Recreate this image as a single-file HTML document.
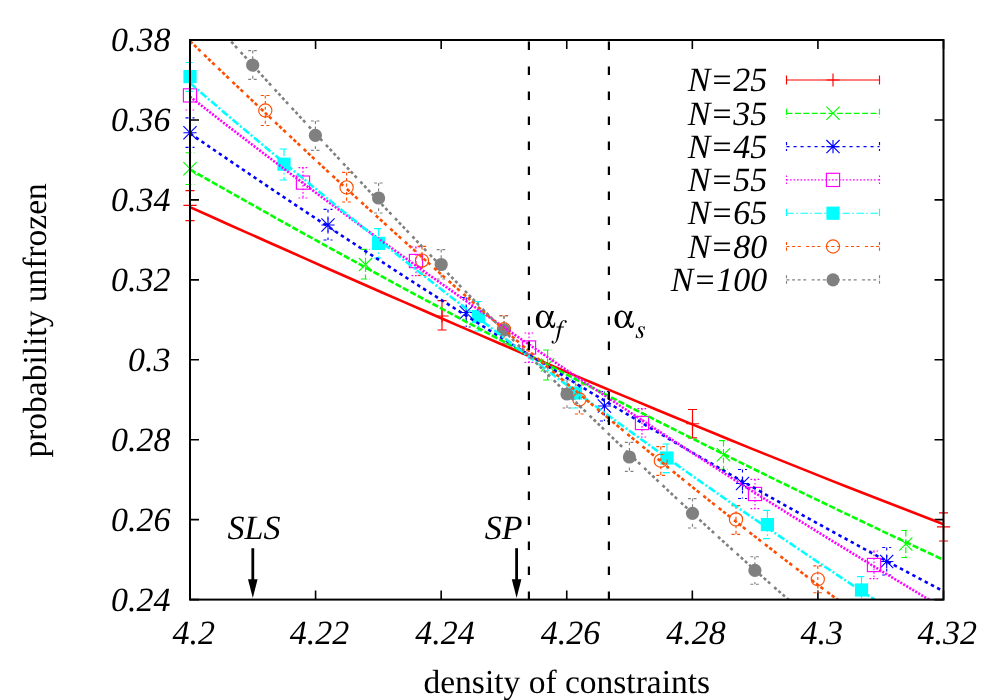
<!DOCTYPE html>
<html><head><meta charset="utf-8"><title>plot</title>
<style>
html,body{margin:0;padding:0;background:#fff;}
svg{display:block;will-change:transform;}
text{font-family:"Liberation Serif",serif;fill:#000;text-rendering:geometricPrecision;}
.it{font-style:italic;}
</style></head><body>
<svg width="1000" height="700" viewBox="0 0 1000 700">
<rect width="1000" height="700" fill="#fff"/>
<defs><clipPath id="cp"><rect x="190.0" y="40.0" width="753.5" height="559.6"/></clipPath></defs>
<path d="M190.00 599.6V590.6M190.00 40.0V49.0M315.58 599.6V590.6M315.58 40.0V49.0M441.17 599.6V590.6M441.17 40.0V49.0M566.75 599.6V590.6M566.75 40.0V49.0M692.33 599.6V590.6M692.33 40.0V49.0M817.92 599.6V590.6M817.92 40.0V49.0M943.50 599.6V590.6M943.50 40.0V49.0M190.0 40.00H199.0M943.5 40.00H934.5M190.0 119.94H199.0M943.5 119.94H934.5M190.0 199.89H199.0M943.5 199.89H934.5M190.0 279.83H199.0M943.5 279.83H934.5M190.0 359.77H199.0M943.5 359.77H934.5M190.0 439.71H199.0M943.5 439.71H934.5M190.0 519.66H199.0M943.5 519.66H934.5M190.0 599.60H199.0M943.5 599.60H934.5" stroke="#000" stroke-width="1.6" fill="none"/>
<text class="it" x="193.8" y="644.2" font-size="34.0" text-anchor="middle">4.2</text>
<text class="it" x="319.4" y="644.2" font-size="34.0" text-anchor="middle">4.22</text>
<text class="it" x="445.0" y="644.2" font-size="34.0" text-anchor="middle">4.24</text>
<text class="it" x="570.5" y="644.2" font-size="34.0" text-anchor="middle">4.26</text>
<text class="it" x="696.1" y="644.2" font-size="34.0" text-anchor="middle">4.28</text>
<text class="it" x="821.7" y="644.2" font-size="34.0" text-anchor="middle">4.3</text>
<text class="it" x="947.3" y="644.2" font-size="34.0" text-anchor="middle">4.32</text>
<text class="it" x="170.6" y="51.2" font-size="34.0" text-anchor="end">0.38</text>
<text class="it" x="170.6" y="131.1" font-size="34.0" text-anchor="end">0.36</text>
<text class="it" x="170.6" y="211.1" font-size="34.0" text-anchor="end">0.34</text>
<text class="it" x="170.6" y="291.0" font-size="34.0" text-anchor="end">0.32</text>
<text class="it" x="170.6" y="371.0" font-size="34.0" text-anchor="end">0.3</text>
<text class="it" x="170.6" y="450.9" font-size="34.0" text-anchor="end">0.28</text>
<text class="it" x="170.6" y="530.9" font-size="34.0" text-anchor="end">0.26</text>
<text class="it" x="170.6" y="610.8" font-size="34.0" text-anchor="end">0.24</text>
<text x="566.8" y="693.3" font-size="33.5" text-anchor="middle">density of constraints</text>
<text transform="translate(45.6,320.4) rotate(-90)" font-size="33.5" text-anchor="middle">probability unfrozen</text>
<path d="M190.0 190.6V220.6M185.5 190.6H194.5M185.5 220.6H194.5" stroke="#ff0000" stroke-width="1.15" fill="none"/>
<path d="M183.4 205.4H196.6M190.0 198.8V212.0" stroke="#ff0000" stroke-width="1.15" fill="none"/>
<path d="M442.0 300.6V330.0M437.5 300.6H446.5M437.5 330.0H446.5" stroke="#ff0000" stroke-width="1.15" fill="none"/>
<path d="M435.4 316.0H448.6M442.0 309.4V322.6" stroke="#ff0000" stroke-width="1.15" fill="none"/>
<path d="M692.5 409.5V437.8M688.0 409.5H697.0M688.0 437.8H697.0" stroke="#ff0000" stroke-width="1.15" fill="none"/>
<path d="M685.9 423.7H699.1M692.5 417.1V430.3" stroke="#ff0000" stroke-width="1.15" fill="none"/>
<path d="M943.5 512.8V541.0M939.0 512.8H948.0M939.0 541.0H948.0" stroke="#ff0000" stroke-width="1.15" fill="none"/>
<path d="M936.9 526.8H950.1M943.5 520.2V533.4" stroke="#ff0000" stroke-width="1.15" fill="none"/>
<path d="M190.0 152.7V184.5M185.5 152.7H194.5M185.5 184.5H194.5" stroke="#00ff00" stroke-width="1.15" fill="none" stroke-dasharray="5.89 2.51"/>
<path d="M183.4 162.1L196.6 175.3M183.4 175.3L196.6 162.1" stroke="#00ff00" stroke-width="1.15" fill="none"/>
<path d="M365.5 249.4V279.0M361.0 249.4H370.0M361.0 279.0H370.0" stroke="#00ff00" stroke-width="1.15" fill="none" stroke-dasharray="5.89 2.51"/>
<path d="M358.9 258.0L372.1 271.2M358.9 271.2L372.1 258.0" stroke="#00ff00" stroke-width="1.15" fill="none"/>
<path d="M547.6 350.0V380.0M543.1 350.0H552.1M543.1 380.0H552.1" stroke="#00ff00" stroke-width="1.15" fill="none" stroke-dasharray="5.89 2.51"/>
<path d="M541.0 358.4L554.2 371.6M541.0 371.6L554.2 358.4" stroke="#00ff00" stroke-width="1.15" fill="none"/>
<path d="M723.5 440.6V469.4M719.0 440.6H728.0M719.0 469.4H728.0" stroke="#00ff00" stroke-width="1.15" fill="none" stroke-dasharray="5.89 2.51"/>
<path d="M716.9 448.2L730.1 461.4M716.9 461.4L730.1 448.2" stroke="#00ff00" stroke-width="1.15" fill="none"/>
<path d="M905.8 530.5V557.5M901.3 530.5H910.3M901.3 557.5H910.3" stroke="#00ff00" stroke-width="1.15" fill="none" stroke-dasharray="5.89 2.51"/>
<path d="M899.2 537.4L912.4 550.6M899.2 550.6L912.4 537.4" stroke="#00ff00" stroke-width="1.15" fill="none"/>
<path d="M190.0 117.8V147.3M185.5 117.8H194.5M185.5 147.3H194.5" stroke="#0000ff" stroke-width="1.15" fill="none" stroke-dasharray="3.09 3.91"/>
<path d="M183.4 132.7H196.6M190.0 126.1V139.3M183.4 126.1L196.6 139.3M183.4 139.3L196.6 126.1" stroke="#0000ff" stroke-width="1.15" fill="none"/>
<path d="M328.0 209.4V240.0M323.5 209.4H332.5M323.5 240.0H332.5" stroke="#0000ff" stroke-width="1.15" fill="none" stroke-dasharray="3.09 3.91"/>
<path d="M321.4 225.0H334.6M328.0 218.4V231.6M321.4 218.4L334.6 231.6M321.4 231.6L334.6 218.4" stroke="#0000ff" stroke-width="1.15" fill="none"/>
<path d="M466.2 297.5V327.0M461.7 297.5H470.7M461.7 327.0H470.7" stroke="#0000ff" stroke-width="1.15" fill="none" stroke-dasharray="3.09 3.91"/>
<path d="M459.6 312.5H472.8M466.2 305.9V319.1M459.6 305.9L472.8 319.1M459.6 319.1L472.8 305.9" stroke="#0000ff" stroke-width="1.15" fill="none"/>
<path d="M604.4 391.5V421.0M599.9 391.5H608.9M599.9 421.0H608.9" stroke="#0000ff" stroke-width="1.15" fill="none" stroke-dasharray="3.09 3.91"/>
<path d="M597.8 406.0H611.0M604.4 399.4V412.6M597.8 399.4L611.0 412.6M597.8 412.6L611.0 399.4" stroke="#0000ff" stroke-width="1.15" fill="none"/>
<path d="M742.5 469.5V498.5M738.0 469.5H747.0M738.0 498.5H747.0" stroke="#0000ff" stroke-width="1.15" fill="none" stroke-dasharray="3.09 3.91"/>
<path d="M735.9 483.5H749.1M742.5 476.9V490.1M735.9 476.9L749.1 490.1M735.9 490.1L749.1 476.9" stroke="#0000ff" stroke-width="1.15" fill="none"/>
<path d="M886.7 547.5V575.0M882.2 547.5H891.2M882.2 575.0H891.2" stroke="#0000ff" stroke-width="1.15" fill="none" stroke-dasharray="3.09 3.91"/>
<path d="M880.1 561.5H893.3M886.7 554.9V568.1M880.1 554.9L893.3 568.1M880.1 568.1L893.3 554.9" stroke="#0000ff" stroke-width="1.15" fill="none"/>
<path d="M190.0 81.0V110.0M185.5 81.0H194.5M185.5 110.0H194.5" stroke="#ff00ff" stroke-width="1.15" fill="none" stroke-dasharray="1.69 1.81"/>
<rect x="183.4" y="88.8" width="13.2" height="13.2" stroke="#ff00ff" stroke-width="1.15" fill="none"/>
<path d="M303.0 167.6V198.0M298.5 167.6H307.5M298.5 198.0H307.5" stroke="#ff00ff" stroke-width="1.15" fill="none" stroke-dasharray="1.69 1.81"/>
<rect x="296.4" y="176.0" width="13.2" height="13.2" stroke="#ff00ff" stroke-width="1.15" fill="none"/>
<path d="M416.0 247.0V275.6M411.5 247.0H420.5M411.5 275.6H420.5" stroke="#ff00ff" stroke-width="1.15" fill="none" stroke-dasharray="1.69 1.81"/>
<rect x="409.4" y="254.4" width="13.2" height="13.2" stroke="#ff00ff" stroke-width="1.15" fill="none"/>
<path d="M529.0 333.0V362.4M524.5 333.0H533.5M524.5 362.4H533.5" stroke="#ff00ff" stroke-width="1.15" fill="none" stroke-dasharray="1.69 1.81"/>
<rect x="522.4" y="340.9" width="13.2" height="13.2" stroke="#ff00ff" stroke-width="1.15" fill="none"/>
<path d="M642.0 408.6V437.0M637.5 408.6H646.5M637.5 437.0H646.5" stroke="#ff00ff" stroke-width="1.15" fill="none" stroke-dasharray="1.69 1.81"/>
<rect x="635.4" y="416.4" width="13.2" height="13.2" stroke="#ff00ff" stroke-width="1.15" fill="none"/>
<path d="M755.0 479.4V508.6M750.5 479.4H759.5M750.5 508.6H759.5" stroke="#ff00ff" stroke-width="1.15" fill="none" stroke-dasharray="1.69 1.81"/>
<rect x="748.4" y="487.4" width="13.2" height="13.2" stroke="#ff00ff" stroke-width="1.15" fill="none"/>
<path d="M874.0 551.0V578.6M869.5 551.0H878.5M869.5 578.6H878.5" stroke="#ff00ff" stroke-width="1.15" fill="none" stroke-dasharray="1.69 1.81"/>
<rect x="867.4" y="558.4" width="13.2" height="13.2" stroke="#ff00ff" stroke-width="1.15" fill="none"/>
<path d="M190.0 62.5V91.3M185.5 62.5H194.5M185.5 91.3H194.5" stroke="#00ffff" stroke-width="1.15" fill="none" stroke-dasharray="7.29 2.51 1.69 2.51"/>
<rect x="183.4" y="70.0" width="13.2" height="13.2" fill="#00ffff"/>
<path d="M284.0 149.0V180.0M279.5 149.0H288.5M279.5 180.0H288.5" stroke="#00ffff" stroke-width="1.15" fill="none" stroke-dasharray="7.29 2.51 1.69 2.51"/>
<rect x="277.4" y="157.6" width="13.2" height="13.2" fill="#00ffff"/>
<path d="M378.6 228.6V258.0M374.1 228.6H383.1M374.1 258.0H383.1" stroke="#00ffff" stroke-width="1.15" fill="none" stroke-dasharray="7.29 2.51 1.69 2.51"/>
<rect x="372.0" y="236.8" width="13.2" height="13.2" fill="#00ffff"/>
<path d="M478.5 301.5V331.0M474.0 301.5H483.0M474.0 331.0H483.0" stroke="#00ffff" stroke-width="1.15" fill="none" stroke-dasharray="7.29 2.51 1.69 2.51"/>
<rect x="471.9" y="309.9" width="13.2" height="13.2" fill="#00ffff"/>
<path d="M575.5 379.0V408.0M571.0 379.0H580.0M571.0 408.0H580.0" stroke="#00ffff" stroke-width="1.15" fill="none" stroke-dasharray="7.29 2.51 1.69 2.51"/>
<rect x="568.9" y="386.4" width="13.2" height="13.2" fill="#00ffff"/>
<path d="M667.0 444.0V472.6M662.5 444.0H671.5M662.5 472.6H671.5" stroke="#00ffff" stroke-width="1.15" fill="none" stroke-dasharray="7.29 2.51 1.69 2.51"/>
<rect x="660.4" y="451.4" width="13.2" height="13.2" fill="#00ffff"/>
<path d="M767.4 510.4V538.6M762.9 510.4H771.9M762.9 538.6H771.9" stroke="#00ffff" stroke-width="1.15" fill="none" stroke-dasharray="7.29 2.51 1.69 2.51"/>
<rect x="760.8" y="518.0" width="13.2" height="13.2" fill="#00ffff"/>
<path d="M861.5 576.6V599.6M857.0 576.6H866.0" stroke="#00ffff" stroke-width="1.15" fill="none" stroke-dasharray="7.29 2.51 1.69 2.51"/>
<rect x="854.9" y="583.4" width="13.2" height="13.2" fill="#00ffff"/>
<path d="M265.3 95.5V125.5M260.8 95.5H269.8M260.8 125.5H269.8" stroke="#ff4d00" stroke-width="1.15" fill="none" stroke-dasharray="3.09 2.51 3.09 2.51 3.09 5.31"/>
<circle cx="265.3" cy="110.5" r="6.6" stroke="#ff4d00" stroke-width="1.15" fill="none"/>
<path d="M346.6 172.4V202.0M342.1 172.4H351.1M342.1 202.0H351.1" stroke="#ff4d00" stroke-width="1.15" fill="none" stroke-dasharray="3.09 2.51 3.09 2.51 3.09 5.31"/>
<circle cx="346.6" cy="187.4" r="6.6" stroke="#ff4d00" stroke-width="1.15" fill="none"/>
<path d="M422.0 246.4V275.4M417.5 246.4H426.5M417.5 275.4H426.5" stroke="#ff4d00" stroke-width="1.15" fill="none" stroke-dasharray="3.09 2.51 3.09 2.51 3.09 5.31"/>
<circle cx="422.0" cy="260.6" r="6.6" stroke="#ff4d00" stroke-width="1.15" fill="none"/>
<path d="M504.0 315.5V343.5M499.5 315.5H508.5M499.5 343.5H508.5" stroke="#ff4d00" stroke-width="1.15" fill="none" stroke-dasharray="3.09 2.51 3.09 2.51 3.09 5.31"/>
<circle cx="504.0" cy="329.3" r="6.6" stroke="#ff4d00" stroke-width="1.15" fill="none"/>
<path d="M579.4 385.0V414.0M574.9 385.0H583.9M574.9 414.0H583.9" stroke="#ff4d00" stroke-width="1.15" fill="none" stroke-dasharray="3.09 2.51 3.09 2.51 3.09 5.31"/>
<circle cx="579.4" cy="399.5" r="6.6" stroke="#ff4d00" stroke-width="1.15" fill="none"/>
<path d="M660.8 446.6V475.4M656.3 446.6H665.3M656.3 475.4H665.3" stroke="#ff4d00" stroke-width="1.15" fill="none" stroke-dasharray="3.09 2.51 3.09 2.51 3.09 5.31"/>
<circle cx="660.8" cy="460.8" r="6.6" stroke="#ff4d00" stroke-width="1.15" fill="none"/>
<path d="M736.0 505.6V534.4M731.5 505.6H740.5M731.5 534.4H740.5" stroke="#ff4d00" stroke-width="1.15" fill="none" stroke-dasharray="3.09 2.51 3.09 2.51 3.09 5.31"/>
<circle cx="736.0" cy="519.4" r="6.6" stroke="#ff4d00" stroke-width="1.15" fill="none"/>
<path d="M817.8 565.8V592.7M813.3 565.8H822.3M813.3 592.7H822.3" stroke="#ff4d00" stroke-width="1.15" fill="none" stroke-dasharray="3.09 2.51 3.09 2.51 3.09 5.31"/>
<circle cx="817.8" cy="579.3" r="6.6" stroke="#ff4d00" stroke-width="1.15" fill="none"/>
<path d="M252.7 50.6V79.3M248.2 50.6H257.2M248.2 79.3H257.2" stroke="#808080" stroke-width="1.15" fill="none" stroke-dasharray="2.92 2.68 2.92 2.68 2.92 2.68 2.92 5.48"/>
<circle cx="252.7" cy="65.2" r="6.6" fill="#808080"/>
<path d="M315.4 121.0V150.4M310.9 121.0H319.9M310.9 150.4H319.9" stroke="#808080" stroke-width="1.15" fill="none" stroke-dasharray="2.92 2.68 2.92 2.68 2.92 2.68 2.92 5.48"/>
<circle cx="315.4" cy="135.4" r="6.6" fill="#808080"/>
<path d="M378.6 183.0V213.0M374.1 183.0H383.1M374.1 213.0H383.1" stroke="#808080" stroke-width="1.15" fill="none" stroke-dasharray="2.92 2.68 2.92 2.68 2.92 2.68 2.92 5.48"/>
<circle cx="378.6" cy="198.0" r="6.6" fill="#808080"/>
<path d="M441.2 249.6V279.0M436.7 249.6H445.7M436.7 279.0H445.7" stroke="#808080" stroke-width="1.15" fill="none" stroke-dasharray="2.92 2.68 2.92 2.68 2.92 2.68 2.92 5.48"/>
<circle cx="441.2" cy="264.5" r="6.6" fill="#808080"/>
<path d="M504.0 316.0V344.0M499.5 316.0H508.5M499.5 344.0H508.5" stroke="#808080" stroke-width="1.15" fill="none" stroke-dasharray="2.92 2.68 2.92 2.68 2.92 2.68 2.92 5.48"/>
<circle cx="504.0" cy="330.0" r="6.6" fill="#808080"/>
<path d="M567.0 380.0V408.0M562.5 380.0H571.5M562.5 408.0H571.5" stroke="#808080" stroke-width="1.15" fill="none" stroke-dasharray="2.92 2.68 2.92 2.68 2.92 2.68 2.92 5.48"/>
<circle cx="567.0" cy="394.0" r="6.6" fill="#808080"/>
<path d="M629.4 442.4V471.4M624.9 442.4H633.9M624.9 471.4H633.9" stroke="#808080" stroke-width="1.15" fill="none" stroke-dasharray="2.92 2.68 2.92 2.68 2.92 2.68 2.92 5.48"/>
<circle cx="629.4" cy="457.0" r="6.6" fill="#808080"/>
<path d="M692.5 498.6V528.0M688.0 498.6H697.0M688.0 528.0H697.0" stroke="#808080" stroke-width="1.15" fill="none" stroke-dasharray="2.92 2.68 2.92 2.68 2.92 2.68 2.92 5.48"/>
<circle cx="692.5" cy="513.3" r="6.6" fill="#808080"/>
<path d="M754.9 556.7V584.2M750.4 556.7H759.4M750.4 584.2H759.4" stroke="#808080" stroke-width="1.15" fill="none" stroke-dasharray="2.92 2.68 2.92 2.68 2.92 2.68 2.92 5.48"/>
<circle cx="754.9" cy="570.4" r="6.6" fill="#808080"/>
<g clip-path="url(#cp)">
<path d="M190.0 207.1L209.3 215.8L228.6 224.5L248.0 233.1L267.3 241.7L286.6 250.3L305.9 258.9L325.2 267.5L344.6 276.0L363.9 284.5L383.2 293.0L402.5 301.4L421.8 309.8L441.2 318.2L460.5 326.6L479.8 334.9L499.1 343.2L518.4 351.5L537.8 359.7L557.1 367.9L576.4 376.1L595.7 384.3L615.1 392.4L634.4 400.4L653.7 408.5L673.0 416.5L692.3 424.4L711.7 432.3L731.0 440.2L750.3 448.1L769.6 455.9L788.9 463.6L808.3 471.4L827.6 479.1L846.9 486.7L866.2 494.3L885.5 501.8L904.9 509.3L924.2 516.8L943.5 524.2" stroke="#ff0000" stroke-width="2.6" fill="none"/>
<path d="M190.0 169.5L209.3 180.5L228.6 191.4L248.0 202.3L267.3 213.2L286.6 224.0L305.9 234.7L325.2 245.4L344.6 256.0L363.9 266.6L383.2 277.1L402.5 287.6L421.8 298.0L441.2 308.4L460.5 318.7L479.8 329.0L499.1 339.2L518.4 349.4L537.8 359.5L557.1 369.6L576.4 379.6L595.7 389.5L615.1 399.4L634.4 409.3L653.7 419.1L673.0 428.8L692.3 438.5L711.7 448.2L731.0 457.8L750.3 467.3L769.6 476.8L788.9 486.2L808.3 495.6L827.6 504.9L846.9 514.2L866.2 523.4L885.5 532.6L904.9 541.7L924.2 550.8L943.5 559.8" stroke="#00ff00" stroke-width="2.6" fill="none" stroke-dasharray="6.25 2.15"/>
<path d="M190.0 133.4L209.3 146.7L228.6 159.9L248.0 173.0L267.3 186.1L286.6 199.0L305.9 211.9L325.2 224.7L344.6 237.5L363.9 250.1L383.2 262.7L402.5 275.2L421.8 287.6L441.2 299.9L460.5 312.1L479.8 324.3L499.1 336.3L518.4 348.3L537.8 360.2L557.1 372.0L576.4 383.8L595.7 395.4L615.1 407.0L634.4 418.5L653.7 429.9L673.0 441.3L692.3 452.5L711.7 463.7L731.0 474.8L750.3 485.8L769.6 496.7L788.9 507.5L808.3 518.3L827.6 528.9L846.9 539.5L866.2 550.0L885.5 560.5L904.9 570.8L924.2 581.1L943.5 591.3" stroke="#0000ff" stroke-width="2.6" fill="none" stroke-dasharray="3.45 3.55"/>
<path d="M190.0 96.7L209.3 111.7L228.6 126.7L248.0 141.5L267.3 156.2L286.6 170.8L305.9 185.3L325.2 199.7L344.6 213.9L363.9 228.1L383.2 242.1L402.5 256.0L421.8 269.8L441.2 283.5L460.5 297.1L479.8 310.6L499.1 324.0L518.4 337.3L537.8 350.5L557.1 363.7L576.4 376.7L595.7 389.6L615.1 402.4L634.4 415.2L653.7 427.8L673.0 440.4L692.3 452.9L711.7 465.3L731.0 477.6L750.3 489.9L769.6 502.0L788.9 514.1L808.3 526.1L827.6 538.1L846.9 549.9L866.2 561.7L885.5 573.5L904.9 585.1L924.2 596.8L943.5 608.3" stroke="#ff00ff" stroke-width="2.6" fill="none" stroke-dasharray="2.05 1.45"/>
<path d="M190.0 83.1L209.3 99.7L228.6 116.2L248.0 132.5L267.3 148.7L286.6 164.8L305.9 180.8L325.2 196.7L344.6 212.4L363.9 228.0L383.2 243.5L402.5 258.9L421.8 274.2L441.2 289.3L460.5 304.3L479.8 319.2L499.1 334.0L518.4 348.7L537.8 363.3L557.1 377.8L576.4 392.1L595.7 406.3L615.1 420.4L634.4 434.4L653.7 448.3L673.0 462.1L692.3 475.8L711.7 489.4L731.0 502.8L750.3 516.2L769.6 529.4L788.9 542.5L808.3 555.6L827.6 568.5L846.9 581.3L866.2 594.0L885.5 606.6L904.9 619.1L924.2 631.5L943.5 643.8" stroke="#00ffff" stroke-width="2.6" fill="none" stroke-dasharray="7.65 2.15 2.05 2.15"/>
<path d="M190.0 41.1L209.3 59.7L228.6 78.2L248.0 96.6L267.3 114.9L286.6 133.0L305.9 151.1L325.2 169.0L344.6 186.9L363.9 204.6L383.2 222.2L402.5 239.7L421.8 257.0L441.2 274.3L460.5 291.4L479.8 308.4L499.1 325.2L518.4 342.0L537.8 358.6L557.1 375.1L576.4 391.5L595.7 407.7L615.1 423.8L634.4 439.8L653.7 455.6L673.0 471.4L692.3 486.9L711.7 502.4L731.0 517.7L750.3 532.9L769.6 547.9L788.9 562.8L808.3 577.6L827.6 592.2L846.9 606.7L866.2 621.0L885.5 635.2L904.9 649.2L924.2 663.1L943.5 676.9" stroke="#ff4d00" stroke-width="2.6" fill="none" stroke-dasharray="3.45 2.15 3.45 2.15 3.45 4.95"/>
<path d="M190.0 -4.0L209.3 17.5L228.6 38.8L248.0 60.1L267.3 81.3L286.6 102.3L305.9 123.2L325.2 144.1L344.6 164.8L363.9 185.4L383.2 205.8L402.5 226.1L421.8 246.3L441.2 266.4L460.5 286.3L479.8 306.1L499.1 325.7L518.4 345.2L537.8 364.5L557.1 383.6L576.4 402.7L595.7 421.5L615.1 440.2L634.4 458.7L653.7 477.0L673.0 495.1L692.3 513.1L711.7 530.9L731.0 548.5L750.3 565.9L769.6 583.1L788.9 600.1L808.3 616.9L827.6 633.5L846.9 649.9L866.2 666.1L885.5 682.1L904.9 697.8L924.2 713.3L943.5 728.6" stroke="#808080" stroke-width="2.6" fill="none" stroke-dasharray="3.06 2.54 3.06 2.54 3.06 2.54 3.06 5.34"/>
</g>
<path d="M528.9 41.5V599.6" stroke="#000" stroke-width="2.2" stroke-dasharray="8.5 16.5" fill="none"/>
<path d="M608.9 41.5V599.6" stroke="#000" stroke-width="2.2" stroke-dasharray="8.5 16.5" fill="none"/>
<path d="M252.8 548.2V582" stroke="#000" stroke-width="2.8" fill="none"/>
<path d="M252.8 598L248.0 579.2H257.6Z" fill="#000"/>
<text class="it" x="254" y="539.2" font-size="34.0" text-anchor="middle">SLS</text>
<path d="M516.6 548.2V582" stroke="#000" stroke-width="2.8" fill="none"/>
<path d="M516.6 598L511.8 579.2H521.4Z" fill="#000"/>
<text class="it" x="503.7" y="539.2" font-size="34.0" text-anchor="middle">SP</text>
<path transform="translate(534.5 327.6) scale(0.03333 -0.03333)" d="M496 500 435 328C409 449 348 513 257 513C211 513 162 494 125 462C69 415 41 343 41 244C41 85 120 -13 250 -13C338 -13 403 32 444 121C449 102 456 84 467 59C493 3 510 -13 542 -13C575 -13 598 8 611 50C618 73 621 95 622 151H596C594 100 575 63 550 63C517 63 484 116 472 185L585 500ZM406 241 383 176C348 74 308 25 258 25C227 25 196 45 180 74C158 115 146 178 146 250C146 322 160 383 186 427C204 456 227 470 258 470C329 470 375 413 395 299Z" fill="#000"/>
<path transform="translate(555.5 338.0) scale(0.02667 -0.02667)" d="M424 613C424 650 387 678 338 678C290 678 252 657 216 613C185 573 164 526 134 428H42L35 396H125L37 -24C14 -132 -18 -186 -60 -186C-72 -186 -80 -179 -80 -170C-80 -166 -79 -164 -76 -159C-72 -153 -71 -149 -71 -143C-71 -122 -89 -105 -110 -105C-131 -105 -147 -123 -147 -146C-147 -181 -113 -207 -68 -207C21 -207 90 -109 132 76L204 396H313L319 428H211C240 586 277 656 333 656C347 656 355 651 355 643C355 643 354 638 351 634C346 626 345 621 345 613C345 589 360 573 382 573C405 573 424 591 424 613Z" fill="#000"/>
<path transform="translate(613.2 327.6) scale(0.03333 -0.03333)" d="M496 500 435 328C409 449 348 513 257 513C211 513 162 494 125 462C69 415 41 343 41 244C41 85 120 -13 250 -13C338 -13 403 32 444 121C449 102 456 84 467 59C493 3 510 -13 542 -13C575 -13 598 8 611 50C618 73 621 95 622 151H596C594 100 575 63 550 63C517 63 484 116 472 185L585 500ZM406 241 383 176C348 74 308 25 258 25C227 25 196 45 180 74C158 115 146 178 146 250C146 322 160 383 186 427C204 456 227 470 258 470C329 470 375 413 395 299Z" fill="#000"/>
<path transform="translate(635.2 338.0) scale(0.02667 -0.02667)" d="M304 119C304 158 283 201 236 259C198 306 182 337 182 364C182 398 203 418 238 418C290 418 320 381 330 303H346L366 442H352C344 428 337 424 322 424C314 424 305 426 286 431C261 439 247 441 230 441C156 441 109 398 109 331C109 299 130 256 172 202C211 151 228 116 228 87C228 41 198 10 154 10C98 10 68 51 52 146H36L16 -13H32C41 4 45 8 56 8C67 8 85 4 105 -1C128 -8 143 -11 160 -11C244 -11 304 43 304 119Z" fill="#000"/>
<text class="it" x="767.3" y="91.2" font-size="34.0" text-anchor="end">N=25</text>
<path d="M786.5 80.0H879.5" stroke="#ff0000" stroke-width="1.15" fill="none"/>
<path d="M786.5 75.5V84.5M879.5 75.5V84.5" stroke="#ff0000" stroke-width="1.15" fill="none"/>
<path d="M826.4 80.0H839.6M833.0 73.4V86.6" stroke="#ff0000" stroke-width="1.15" fill="none"/>
<text class="it" x="767.3" y="124.5" font-size="34.0" text-anchor="end">N=35</text>
<path d="M786.5 113.3H879.5" stroke="#00ff00" stroke-width="1.15" fill="none" stroke-dasharray="5.89 2.51"/>
<path d="M786.5 108.8V117.8M879.5 108.8V117.8" stroke="#00ff00" stroke-width="1.15" fill="none" stroke-dasharray="5.89 2.51"/>
<path d="M826.4 106.7L839.6 119.9M826.4 119.9L839.6 106.7" stroke="#00ff00" stroke-width="1.15" fill="none"/>
<text class="it" x="767.3" y="157.8" font-size="34.0" text-anchor="end">N=45</text>
<path d="M786.5 146.6H879.5" stroke="#0000ff" stroke-width="1.15" fill="none" stroke-dasharray="3.09 3.91"/>
<path d="M786.5 142.1V151.1M879.5 142.1V151.1" stroke="#0000ff" stroke-width="1.15" fill="none" stroke-dasharray="3.09 3.91"/>
<path d="M826.4 146.6H839.6M833.0 140.0V153.2M826.4 140.0L839.6 153.2M826.4 153.2L839.6 140.0" stroke="#0000ff" stroke-width="1.15" fill="none"/>
<text class="it" x="767.3" y="191.1" font-size="34.0" text-anchor="end">N=55</text>
<path d="M786.5 179.9H879.5" stroke="#ff00ff" stroke-width="1.15" fill="none" stroke-dasharray="1.69 1.81"/>
<path d="M786.5 175.4V184.4M879.5 175.4V184.4" stroke="#ff00ff" stroke-width="1.15" fill="none" stroke-dasharray="1.69 1.81"/>
<rect x="826.4" y="173.3" width="13.2" height="13.2" stroke="#ff00ff" stroke-width="1.15" fill="none"/>
<text class="it" x="767.3" y="224.4" font-size="34.0" text-anchor="end">N=65</text>
<path d="M786.5 213.2H879.5" stroke="#00ffff" stroke-width="1.15" fill="none" stroke-dasharray="7.29 2.51 1.69 2.51"/>
<path d="M786.5 208.7V217.7M879.5 208.7V217.7" stroke="#00ffff" stroke-width="1.15" fill="none" stroke-dasharray="7.29 2.51 1.69 2.51"/>
<rect x="826.4" y="206.6" width="13.2" height="13.2" fill="#00ffff"/>
<text class="it" x="767.3" y="257.7" font-size="34.0" text-anchor="end">N=80</text>
<path d="M786.5 246.5H879.5" stroke="#ff4d00" stroke-width="1.15" fill="none" stroke-dasharray="3.09 2.51 3.09 2.51 3.09 5.31"/>
<path d="M786.5 242.0V251.0M879.5 242.0V251.0" stroke="#ff4d00" stroke-width="1.15" fill="none" stroke-dasharray="3.09 2.51 3.09 2.51 3.09 5.31"/>
<circle cx="833.0" cy="246.5" r="6.6" stroke="#ff4d00" stroke-width="1.15" fill="none"/>
<text class="it" x="767.3" y="291.0" font-size="34.0" text-anchor="end">N=100</text>
<path d="M786.5 279.8H879.5" stroke="#808080" stroke-width="1.15" fill="none" stroke-dasharray="2.92 2.68 2.92 2.68 2.92 2.68 2.92 5.48"/>
<path d="M786.5 275.3V284.3M879.5 275.3V284.3" stroke="#808080" stroke-width="1.15" fill="none" stroke-dasharray="2.92 2.68 2.92 2.68 2.92 2.68 2.92 5.48"/>
<circle cx="833.0" cy="279.8" r="6.6" fill="#808080"/>
<rect x="190.0" y="40.0" width="753.5" height="559.6" stroke="#000" stroke-width="2" fill="none"/>
</svg></body></html>
